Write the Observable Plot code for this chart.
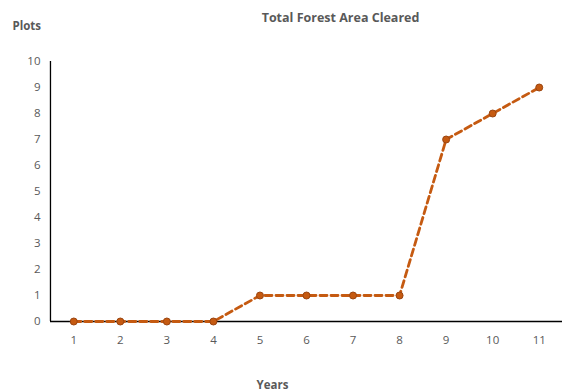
<!DOCTYPE html>
<html><head><meta charset="utf-8">
<script src="https://cdn.jsdelivr.net/npm/d3@7"></script>
<script src="https://cdn.jsdelivr.net/npm/@observablehq/plot@0.6"></script>
<style>
html,body{margin:0;padding:0;background:#fff;}
</style>
</head><body>
<div id="chart"></div>
<script>
const years = [1,2,3,4,5,6,7,8,9,10,11];
const plots = [0,0,0,0,1,1,1,1,7,8,9];
const yTicks = [0,1,2,3,4,5,6,7,8,9,10];
const title = "Total Forest Area Cleared";
const yLabel = "Plots";
const xLabel = "Years";

const data = years.map((y,i)=>({year:y, plots:plots[i]}));
const font = "'Open Sans', 'Noto Sans', sans-serif";
const chart = Plot.plot({
  width: 562, height: 392,
  marginLeft: 50, marginRight: 0, marginTop: 61, marginBottom: 71,
  style: {fontFamily: font, fontSize: "11px", color: "#595959", background: "#fff"},
  x: {type: "point", domain: years, padding: 0.5, round: false, label: null},
  y: {domain: [0,10], ticks: yTicks, label: null},
  marks: [
    Plot.axisY({ticks: yTicks, tickSize: 0, tickPadding: 10, fill: "#595959", fontSize: 11.5}),
    Plot.axisX({tickSize: 0, tickPadding: 14, fill: "#595959", fontSize: 11.5}),
    Plot.ruleY([0], {stroke: "#000", strokeWidth: 1.3}),
    Plot.ruleX([years[0]], {stroke: "#000", strokeWidth: 1.3, dx: -23.3}),
    Plot.line(data, {x: "year", y: "plots", stroke: "#c55a11", strokeWidth: 2.8, strokeDasharray: "7,4"}),
    Plot.dot(data, {x: "year", y: "plots", r: 3.5, fill: "#c55a11", stroke: "#9b4510", strokeWidth: 1}),
    Plot.text([title], {frameAnchor: "top", dx: 34, dy: -48, text: d=>d, fontWeight: "bold", fontSize: 12.5, fill: "#595959"}),
    Plot.text([yLabel], {frameAnchor: "top-left", textAnchor: "start", dx: -38, dy: -40, text: d=>d, fontWeight: "bold", fontSize: 11.5, fill: "#595959"}),
    Plot.text([xLabel], {frameAnchor: "bottom", dx: -34, dy: 67, text: d=>d, fontWeight: "bold", fontSize: 11.5, fill: "#595959"})
  ]
});
document.getElementById("chart").appendChild(chart);
</script>
</body></html>
